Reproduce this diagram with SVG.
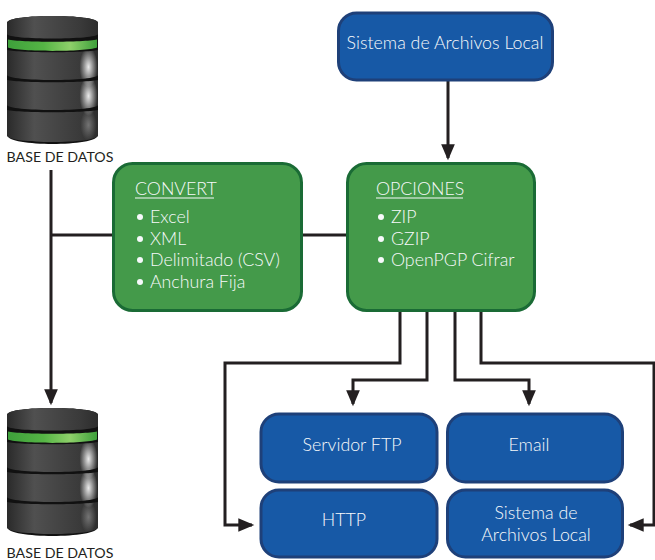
<svg xmlns="http://www.w3.org/2000/svg" width="655" height="560" viewBox="0 0 655 560">
<style>
text{font-family:"Lato","Open Sans","Liberation Sans",sans-serif;font-weight:300;fill:#f7f9fb;font-size:17.8px}
.c{text-anchor:middle}
.blue{fill:#1759a6;stroke:#1e4079;stroke-width:3}
.green{fill:#449a4a;stroke:#1a6b35;stroke-width:3}
.line{fill:none;stroke:#231f20;stroke-width:3}
.arrow{marker-end:url(#ah)}
.lbl{fill:#231f20;font-size:14.2px;font-weight:400}
.dot{fill:#f7f9fb}
</style>
<defs>
<marker id="ah" markerUnits="userSpaceOnUse" markerWidth="16" markerHeight="13.700" refX="12" refY="6" viewBox="0 0 14 12" orient="auto" overflow="visible"><path d="M0 0L14 6L0 12Z" fill="#231f20"/></marker>
<linearGradient id="disc" x1="0" x2="1" y1="0" y2="0">
<stop offset="0" stop-color="#2a2a2a"/><stop offset=".3" stop-color="#505050"/><stop offset=".55" stop-color="#454545"/><stop offset=".8" stop-color="#3a3a3a"/><stop offset="1" stop-color="#2d2d2d"/>
</linearGradient>
<linearGradient id="band" x1="0" x2="1" y1="0" y2="0">
<stop offset="0" stop-color="#3ea03b"/><stop offset=".4" stop-color="#55b545"/><stop offset=".7" stop-color="#8ed06a"/><stop offset="1" stop-color="#3ea03b"/>
</linearGradient>
<radialGradient id="hl"><stop offset="0" stop-color="#fff" stop-opacity=".9"/><stop offset=".55" stop-color="#fff" stop-opacity=".4"/><stop offset="1" stop-color="#fff" stop-opacity="0"/></radialGradient>
<clipPath id="discs">
<path d="M7 35C20 38 85 38 98 35V60C98 63 75 65 52.500 65S7 63 7 60Z"/>
<path d="M7 65C20 68 85 68 98 65V90C98 93 75 95 52.500 95S7 93 7 90Z"/>
<path d="M7 95C20 98 85 98 98 95V120C98 125 75 127 52.500 127S7 125 7 120Z"/>
</clipPath>
<g id="db">
<path d="M7 8C7 3 30 1 52.500 1S98 3 98 8V120C98 126 75 129 52.500 129S7 126 7 120Z" fill="#111"/>
<path d="M7 8C7 3 30 1 52.500 1S98 3 98 8V19C98 22 75 23.500 52.500 23.500S7 22 7 19Z" fill="url(#disc)"/>
<path d="M8 24.500C20 27.500 85 27.500 97 24.500V32.500C85 37 20 37 8 32.500Z" fill="url(#band)"/>
<path d="M7 35C20 38 85 38 98 35V60C98 63 75 65 52.500 65S7 63 7 60Z" fill="url(#disc)"/>
<path d="M7 65C20 68 85 68 98 65V90C98 93 75 95 52.500 95S7 93 7 90Z" fill="url(#disc)"/>
<path d="M7 95C20 98 85 98 98 95V120C98 125 75 127 52.500 127S7 125 7 120Z" fill="url(#disc)"/>
<g clip-path="url(#discs)">
<ellipse cx="88.500" cy="52" rx="9" ry="20" fill="url(#hl)"/>
<ellipse cx="88.500" cy="81" rx="9" ry="20" fill="url(#hl)"/>
<ellipse cx="88.500" cy="110" rx="8" ry="16" fill="url(#hl)" opacity=".35"/>
</g>
</g>
</defs>
<g id="connectors">
<path class="line arrow" d="M448 80V158"/>
<path class="line arrow" d="M51 170V403"/>
<path class="line" d="M51 235H113M302 235H347"/>
<path class="line arrow" d="M400 311V363H225V525H252"/>
<path class="line arrow" d="M427 311V380H353V404"/>
<path class="line arrow" d="M455 311V380H529V404"/>
<path class="line arrow" d="M481 311V363H654V525H630"/>
</g>
<g id="db-top"><use href="#db" x="0" y="15"/><text class="lbl c" x="60" y="162">BASE DE DATOS</text></g>
<g id="db-bottom"><use href="#db" x="0" y="407"/><text class="lbl c" x="60" y="558">BASE DE DATOS</text></g>
<g id="local-top"><rect class="blue" x="338.500" y="13" width="214" height="67" rx="18"/><text class="c" x="445" y="49">Sistema de Archivos Local</text></g>
<g id="convert"><rect class="green" x="113.500" y="163.500" width="188" height="147" rx="19"/>
<text x="135" y="195">CONVERT</text><path d="M135 198H214" stroke="#f7f9fb" stroke-width="1.200"/>
<circle class="dot" cx="140" cy="217" r="3"/><text x="150" y="223">Excel</text>
<circle class="dot" cx="140" cy="239" r="3"/><text x="150" y="245">XML</text>
<circle class="dot" cx="140" cy="260" r="3"/><text x="150" y="266">Delimitado (CSV)</text>
<circle class="dot" cx="140" cy="282" r="3"/><text x="150" y="288">Anchura Fija</text></g>
<g id="opciones"><rect class="green" x="347.500" y="163.500" width="187" height="147" rx="19"/>
<text x="376" y="195">OPCIONES</text><path d="M376 198H463" stroke="#f7f9fb" stroke-width="1.200"/>
<circle class="dot" cx="381" cy="217" r="3"/><text x="391" y="223">ZIP</text>
<circle class="dot" cx="381" cy="239" r="3"/><text x="391" y="245">GZIP</text>
<circle class="dot" cx="381" cy="260" r="3"/><text x="391" y="266">OpenPGP Cifrar</text></g>
<g id="ftp"><rect class="blue" x="261" y="414" width="176" height="68" rx="18"/><text class="c" x="352" y="451">Servidor FTP</text></g>
<g id="email"><rect class="blue" x="447.500" y="414" width="175" height="68" rx="18"/><text class="c" x="529" y="451">Email</text></g>
<g id="http"><rect class="blue" x="261" y="490" width="176" height="67" rx="18"/><text class="c" x="344" y="526">HTTP</text></g>
<g id="local-bottom"><rect class="blue" x="447.500" y="490" width="175" height="67" rx="18"/><text class="c" x="536" y="519">Sistema de</text><text class="c" x="536" y="541">Archivos Local</text></g>
</svg>
